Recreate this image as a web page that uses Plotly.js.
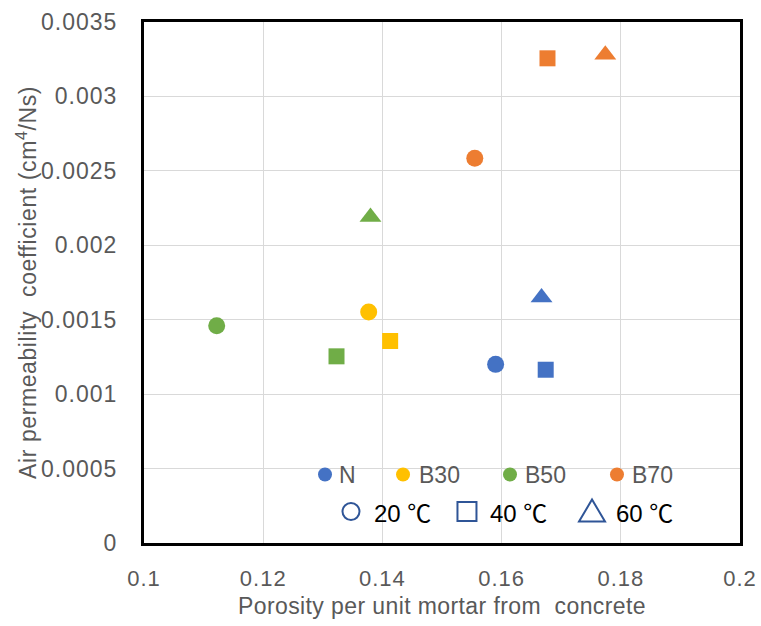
<!DOCTYPE html>
<html>
<head>
<meta charset="utf-8">
<script src="https://cdn.plot.ly/plotly-3.0.1.min.js"></script>
<style>
html,body{margin:0;padding:0;background:#fff;}
#chart{width:761px;height:626px;}
#chart .ytick text{letter-spacing:1px;}
#chart .xtick text{letter-spacing:1px;}
#chart .g-xtitle text{letter-spacing:0.4px;}
#chart .g-ytitle text{letter-spacing:0.6px;}
</style>
</head>
<body>
<div id="chart"></div>
<script>
// ---- data ----
const groups = ['N', 'B30', 'B50', 'B70'];
const groupColors = ['#4472C4', '#FFC000', '#70AD47', '#ED7D31'];
const temps = ['20 ℃', '40 ℃', '60 ℃'];
const tempSymbols = ['circle', 'square', 'triangle-up'];
// porosity per unit mortar, per group, per temperature (20, 40, 60 ℃)
const porosityN   = [0.1590, 0.1674, 0.1667];
const porosityB30 = [0.1377, 0.1413, null];
const porosityB50 = [0.1122, 0.1323, 0.1380];
const porosityB70 = [0.1555, 0.1677, 0.1774];
// air permeability coefficient (cm4/Ns)
const permN   = [0.001200, 0.001164, 0.001650];
const permB30 = [0.001552, 0.001357, null];
const permB50 = [0.001460, 0.001254, 0.002190];
const permB70 = [0.002585, 0.003256, 0.003280];
const xTickVals = [0.1, 0.12, 0.14, 0.16, 0.18, 0.2];
const xTickText = ['0.1', '0.12', '0.14', '0.16', '0.18', '0.2'];
const yTickVals = [0, 0.0005, 0.001, 0.0015, 0.002, 0.0025, 0.003, 0.0035];
const yTickText = ['0', '0.0005', '0.001', '0.0015', '0.002', '0.0025', '0.003', '0.0035'];

const xs = [porosityN, porosityB30, porosityB50, porosityB70];
const ys = [permN, permB30, permB50, permB70];
const sizeFor = {'circle': 17, 'square': 16, 'triangle-up': 19};

const traces = groups.map((g, i) => ({
  type: 'scatter', mode: 'markers', name: g,
  x: xs[i], y: ys[i],
  marker: {
    color: groupColors[i],
    opacity: 1,
    symbol: tempSymbols,
    size: tempSymbols.map(s => sizeFor[s]),
    line: {width: 0}
  },
  showlegend: false,
  hoverinfo: 'x+y+name'
}));

// ---- custom legend (two rows inside the plot) ----
const FONT = '"Liberation Sans", Arial, sans-serif';
const row1Y = 0.1314, row2Y = 0.0604;
const row1MarkX = [0.3037, 0.4346, 0.6141, 0.7936];
const row1TextX = [0.3235, 0.4577, 0.6356, 0.8151];
const row2MarkX = [0.3473, 0.5419, 0.7517];
const row2TextX = [0.3822, 0.5769, 0.7883];
const shapes = [];
const annotations = [];
groups.forEach((g, i) => {
  shapes.push({type: 'circle', xref: 'paper', yref: 'paper',
    xsizemode: 'pixel', ysizemode: 'pixel',
    xanchor: row1MarkX[i], yanchor: row1Y, x0: -7, x1: 7, y0: -7, y1: 7,
    fillcolor: groupColors[i], line: {width: 0}});
  annotations.push({xref: 'paper', yref: 'paper', x: row1TextX[i], y: row1Y,
    xanchor: 'left', yanchor: 'middle', text: g, showarrow: false,
    font: {family: FONT, size: 23, color: '#595959'}});
});
const navy = '#2F5597';
temps.forEach((t, i) => {
  const base = {xref: 'paper', yref: 'paper', xsizemode: 'pixel', ysizemode: 'pixel',
    xanchor: row2MarkX[i], yanchor: row2Y, fillcolor: 'rgba(0,0,0,0)',
    line: {color: navy, width: 2}};
  if (tempSymbols[i] === 'circle') {
    shapes.push(Object.assign({type: 'circle', x0: -8.5, x1: 8.5, y0: -8.5, y1: 8.5}, base));
  } else if (tempSymbols[i] === 'square') {
    shapes.push(Object.assign({type: 'rect', x0: -9.5, x1: 9.5, y0: -9.5, y1: 9.5}, base));
  } else {
    shapes.push(Object.assign({type: 'path', path: 'M -13 -10 L 13 -10 L 0 12 Z'}, base));
  }
  annotations.push({xref: 'paper', yref: 'paper', x: row2TextX[i], y: row2Y - 0.004,
    xanchor: 'left', yanchor: 'middle', text: t, showarrow: false,
    font: {family: '"Liberation Sans", "Noto Sans CJK JP", sans-serif', size: 24, color: '#000000'}});
});

const layout = {
  width: 761, height: 626,
  margin: {l: 144, r: 21, t: 22, b: 82.5, pad: 0},
  paper_bgcolor: '#ffffff', plot_bgcolor: '#ffffff',
  font: {family: FONT, color: '#595959', size: 22},
  showlegend: false,
  xaxis: {
    range: [0.1, 0.2], tickvals: xTickVals, ticktext: xTickText,
    showgrid: true, gridcolor: '#D9D9D9', gridwidth: 1.3,
    zeroline: false, showline: true, linecolor: '#000000', linewidth: 3, mirror: true,
    ticks: '', ticklabelstandoff: 14,
    tickfont: {family: FONT, size: 22, color: '#595959'},
    title: {text: 'Porosity per unit mortar from  concrete', standoff: 8,
      font: {family: FONT, size: 23, color: '#595959'}}
  },
  yaxis: {
    range: [0, 0.0035], tickvals: yTickVals, ticktext: yTickText,
    showgrid: true, gridcolor: '#D9D9D9', gridwidth: 1.3,
    zeroline: false, showline: true, linecolor: '#000000', linewidth: 3, mirror: true,
    ticks: '', ticklabelstandoff: 19,
    tickfont: {family: FONT, size: 23, color: '#595959'},
    title: {text: 'Air permeability  coefficient (cm<sup>4</sup>/Ns)', standoff: 4,
      font: {family: FONT, size: 23, color: '#595959'}}
  },
  shapes: shapes,
  annotations: annotations
};

Plotly.newPlot('chart', traces, layout, {displayModeBar: false, responsive: false});
</script>
</body>
</html>
